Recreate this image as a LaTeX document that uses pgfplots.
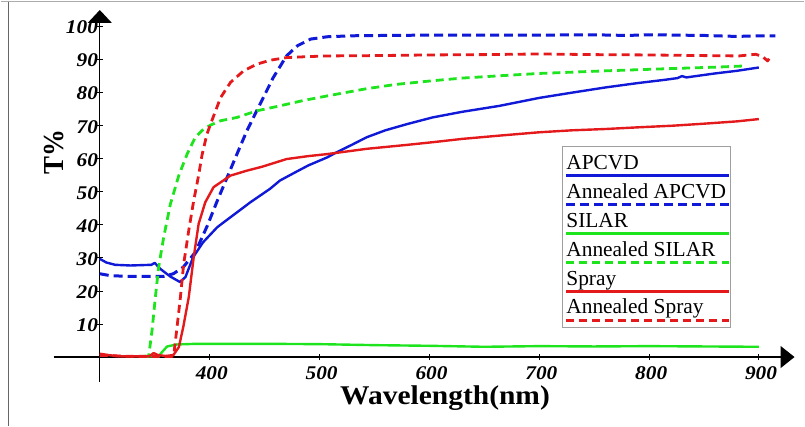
\documentclass[border=0pt]{standalone}
\usepackage{pgfplots}
\pgfplotsset{compat=1.18}
\usepackage{fontspec}
\setmainfont{Liberation Serif}
\usetikzlibrary{arrows.meta}

\definecolor{cblue}{RGB}{15,25,215}
\definecolor{cred}{RGB}{228,25,28}
\definecolor{cgreen}{RGB}{30,228,30}

\newcommand{\tickfont}{\fontsize{19.5}{20}\selectfont\bfseries\itshape}

\begin{document}
\begin{tikzpicture}
\begin{axis}[
  scale only axis, width=805bp, height=426bp,
  xmin=209.7, xmax=941.5, ymin=-20.9, ymax=107.8,
  axis lines=none, clip=false,
  legend style={at={(0.6978,0.6580)}, anchor=north west,
    draw=gray!75, line width=0.8pt, fill=white,
    inner xsep=4.5bp, inner ysep=7.6bp, row sep=8bp, column sep=0pt,
    font=\fontsize{21.5}{24}\selectfont,
    cells={anchor=base west},
    nodes={inner sep=0pt, text height=15bp, text depth=6bp}},
  legend image code/.code={\draw[#1, overlay] (0bp,-6.3bp) -- (163bp,-6.3bp);},
]
% frame of the screenshot
\draw[gray!80!black, line width=1.5bp] (axis cs:217,107.8) -- (axis cs:217,-20.9);
\draw[gray!65, line width=1.2bp] (axis cs:209.7,107.5) -- (axis cs:941.5,107.5);

% axes
\draw[line width=1.3bp, -{Triangle[length=14bp, width=22bp]}] (axis cs:257.9,0) -- (axis cs:932.5,0);
\draw[line width=1.3bp, -{Triangle[length=13bp, width=24bp]}] (axis cs:300,-7.6) -- (axis cs:300,105);
\pgfplotsinvokeforeach{400,500,600,700,800,900}{
  \draw[line width=0.8bp] (axis cs:#1,-0.9) -- (axis cs:#1,0.9);
  \node[anchor=north, inner sep=0pt] at (axis cs:#1+2,-2.9) {\tickfont\scalebox{1.1}[1]{#1}};
}
\pgfplotsinvokeforeach{10,20,30,40,50,60,70,80,90,100}{
  \draw[line width=0.8bp] (axis cs:297.3,#1) -- (axis cs:302.7,#1);
  \node[anchor=east, inner sep=0pt] at (axis cs:298.5,#1-0.3) {\tickfont\scalebox{1.1}[1]{#1}};
}
\node[anchor=base, inner sep=0pt] at (axis cs:614.3,-14.4) {\fontsize{27.2}{28}\selectfont\bfseries\scalebox{1.09}[1]{Wavelength(nm)}};
\node[anchor=base, rotate=90, inner sep=0pt] at (axis cs:267,62) {\fontsize{27}{28}\selectfont\bfseries\scalebox{1}[1.08]{T\%}};

% APCVD
\addplot[cblue, line width=2.4bp, line join=round] table {
x y
300 29.7
306 28.6
314 27.9
328 27.7
347 27.9
350 28.5
355 26.7
364 24.4
373 22.7
378 24.2
385 30.2
394 34.7
407 39.3
419 42.3
437 46.8
455 50.9
464 53.4
478 55.9
490 58.0
507 60.4
516 62.0
530 64.3
543 66.5
560 68.6
580 70.5
603 72.5
630 74.2
664 76.0
700 78.4
730 80.0
761 81.6
790 82.9
815 83.9
826 84.4
830 85.0
834 84.6
860 85.8
880 86.6
900 87.6
};
\addlegendentry{APCVD}

% Annealed APCVD
\addplot[cblue, line width=3bp, dash pattern=on 9bp off 5bp, line join=round] table {
x y
300 25.2
310 24.6
328 24.4
358 24.4
367 25.2
376 27.2
387 31.7
398 39.8
407 47.3
416 54.4
425 61.5
434 68.5
446 76.6
458 84.6
470 91.1
480 94.2
492 96.2
507 96.9
530 97.2
560 97.3
600 97.4
650 97.4
700 97.4
750 97.5
780 97.3
800 97.5
850 97.3
880 97.0
900 97.2
915 97.2
};
\addlegendentry{Annealed APCVD}

% SILAR
\addplot[cgreen, line width=2.4bp, line join=round] table {
x y
340 0.2
353.6 0.2
356.7 1.5
361.3 3.2
370 3.8
388 4.0
450 4.0
500 3.9
550 3.6
600 3.4
650 3.1
700 3.3
750 3.2
800 3.3
850 3.2
900 3.1
};
\addlegendentry{SILAR}

% Annealed SILAR
\addplot[cgreen, line width=2.8bp, dash pattern=on 8bp off 5bp, line join=round] table {
x y
340 0.2
344.5 0.2
347.6 8.1
350.6 18.1
353.6 27.2
358.2 36.3
364.3 46.3
372 55
379.5 61.4
387 66.5
394.5 69
401 70.2
410 71.5
425 72.5
443 74.5
464 76
485 77.6
507 79
543 81.2
570 82.5
603 83.6
630 84.4
664 85.1
700 85.8
761 86.6
822 87.3
860 87.7
889 88.1
};
\addlegendentry{Annealed SILAR}

% Spray
\addplot[cred, line width=2.4bp, line join=round] table {
x y
300 1.0
310 0.5
320 0.2
345 0.2
349 1.2
353 0.6
360 0.3
367 0.6
372 3.0
376 9.1
381 18.1
385.5 30.2
390 40.3
396 46.8
403.6 51.4
419 54.9
434 56.4
448 57.6
470 59.9
490 60.8
507 61.4
543 63.0
580 64.2
603 65.0
630 66.0
664 67.0
700 68.0
730 68.6
761 69.0
790 69.5
822 70.0
850 70.6
880 71.3
900 72.0
};
\addlegendentry{Spray}

% Annealed Spray
\addplot[cred, line width=2.8bp, dash pattern=on 8bp off 5bp, line join=round] table {
x y
300 0.5
330 0.2
366 0.2
367.5 1
370 8.1
373.4 18.1
376.4 28.2
381 38.3
385.5 47.3
390 55
393 61
397.6 67.5
402 71.5
410 78.5
419 83.1
431 86.6
443 88.6
455 89.8
470 90.6
490 90.9
507 91.1
550 91.2
600 91.4
650 91.5
700 91.7
750 91.5
800 91.4
850 91.2
882 91.1
897 91.6
903 91.0
908 89.6
911 91.1
};
\addlegendentry{Annealed Spray}
\end{axis}
\end{tikzpicture}
\end{document}
